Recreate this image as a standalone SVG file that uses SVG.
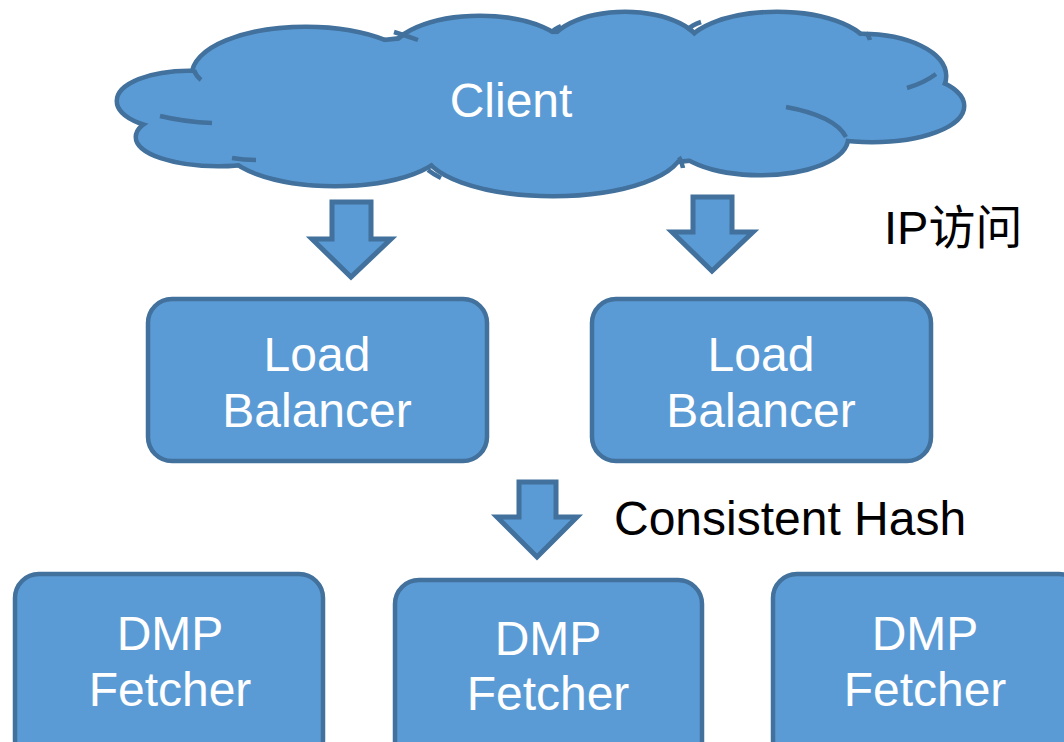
<svg xmlns="http://www.w3.org/2000/svg" xmlns:xlink="http://www.w3.org/1999/xlink" width="1064" height="742" viewBox="0 0 1064 742">
<style>
.box{fill:#5B9BD5;stroke:#41719C;stroke-width:4.5}
.arrow{fill:#5B9BD5;stroke:#41719C;stroke-width:5;stroke-linejoin:miter}
.wt{fill:#FFFFFF;font-family:"Liberation Sans",Arial,sans-serif;font-size:48px;text-anchor:middle}
.bt{fill:#000000;font-family:"Liberation Sans","Noto Sans CJK SC",Arial,sans-serif;font-size:48px}
.cs{fill:none;stroke:#41719C;stroke-width:9}
.cf{fill:#5B9BD5;stroke:none}
.ca{fill:none;stroke:#41719C;stroke-width:4.5}
</style>
<defs>
<g id="cloudShapes">
<ellipse cx="189" cy="101" rx="70" ry="28"/>
<ellipse cx="218" cy="137" rx="80" ry="27"/>
<ellipse cx="306" cy="75" rx="112" ry="46"/>
<ellipse cx="480" cy="56" rx="88" ry="38"/>
<ellipse cx="625" cy="52" rx="76" ry="38"/>
<ellipse cx="777" cy="52" rx="91" ry="38"/>
<ellipse cx="862" cy="76" rx="82" ry="40"/>
<ellipse cx="872" cy="106" rx="90" ry="34"/>
<ellipse cx="760" cy="138" rx="86" ry="35"/>
<ellipse cx="553" cy="148" rx="128" ry="46"/>
<ellipse cx="335" cy="143" rx="110" ry="41"/>
<ellipse cx="540" cy="100" rx="320" ry="66"/>
</g>
</defs>
<g id="client">
<use xlink:href="#cloudShapes" class="cs"/>
<use xlink:href="#cloudShapes" class="cf"/>
<path class="ca" d="M194 70 Q196 76 201 80"/>
<path class="ca" d="M160 116 Q185 122 212 123"/>
<path class="ca" d="M232 158 Q244 160 256 160"/>
<path class="ca" d="M394 32 Q407 36 418 40"/>
<path class="ca" d="M551 33 Q554 29 561 26"/>
<path class="ca" d="M687 30 Q692 25 701 22"/>
<path class="ca" d="M866 33 Q869 36 870 40"/>
<path class="ca" d="M907 88 Q924 83 936 74"/>
<path class="ca" d="M786 107 Q835 116 846 137"/>
<path class="ca" d="M679 157 Q682 162 683 168"/>
<path class="ca" d="M428 170 Q433 174 441 178"/>
<text class="wt" x="511" y="117">Client</text>
</g>
<g id="connectors">
<polygon class="arrow" points="332,202 371,202 371,239 391,239 351,277 312,239 332,239"/>
<polygon class="arrow" points="693,197 732,197 732,232 753,232 712,271 672,232 693,232"/>
<polygon class="arrow" points="519,482 556,482 556,517 577,517 537,557 497,517 519,517"/>
</g>
<g id="label-ip"><text class="bt" x="884" y="244" style="font-size:47px">IP访问</text></g>
<g id="label-hash"><text class="bt" x="614" y="535">Consistent Hash</text></g>
<g id="lb1">
<rect class="box" x="148" y="299" width="339" height="162" rx="24"/>
<text class="wt" x="317" y="371">Load</text>
<text class="wt" x="317" y="427">Balancer</text>
</g>
<g id="lb2">
<rect class="box" x="592" y="299" width="339" height="162" rx="24"/>
<text class="wt" x="761" y="371">Load</text>
<text class="wt" x="761" y="427">Balancer</text>
</g>
<g id="f1">
<rect class="box" x="15" y="574" width="308" height="190" rx="24"/>
<text class="wt" x="170" y="650">DMP</text>
<text class="wt" x="170" y="706">Fetcher</text>
</g>
<g id="f2">
<rect class="box" x="395" y="580" width="307" height="190" rx="24"/>
<text class="wt" x="548" y="655">DMP</text>
<text class="wt" x="548" y="710">Fetcher</text>
</g>
<g id="f3">
<rect class="box" x="773" y="574" width="310" height="190" rx="24"/>
<text class="wt" x="925" y="650">DMP</text>
<text class="wt" x="925" y="706">Fetcher</text>
</g>
</svg>
